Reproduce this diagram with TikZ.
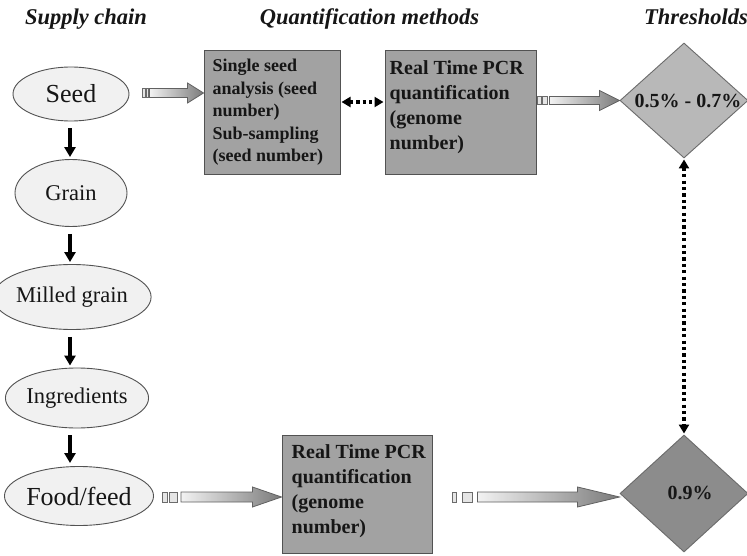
\documentclass[tikz,border=0pt]{standalone}
\usepackage{fontspec}
\setmainfont{Liberation Serif}
\usetikzlibrary{shapes.geometric,arrows.meta,calc}
\definecolor{inkc}{HTML}{161616}
\definecolor{ellfill}{HTML}{F1F1F1}
\definecolor{boxfill}{HTML}{A2A2A2}
\definecolor{thrA}{HTML}{B8B8B8}
\definecolor{thrB}{HTML}{8C8C8C}
\newcommand{\blkarrow}[9]{%
  \coordinate (ba-s) at (#1);
  \coordinate (ba-e) at (#2 |- ba-s);
  \draw[smallrect] ($(ba-s)+(#3,-#9)$) rectangle ($(ba-s)+(#3+#4,#9)$);
  \draw[smallrect] ($(ba-s)+(#5,-#9)$) rectangle ($(ba-s)+(#5+#6,#9)$);
  \path[shaftarrow] ($(ba-s)+(#7,-#9)$) -- ($(ba-e)+(-#8,-#9)$) -- ($(ba-e)+(-#8,-10)$)
     -- (ba-e) -- ($(ba-e)+(-#8,10)$) -- ($(ba-e)+(-#8,#9)$) -- ($(ba-s)+(#7,#9)$) -- cycle;
}
\begin{document}
\begin{tikzpicture}[x=1pt,y=-1pt,
  every node/.style={text=inkc},
  chain/.style={ellipse, draw=black!68, fill=ellfill, line width=0.9pt, inner sep=0pt},
  qbox/.style={rectangle, draw=black!68, fill=boxfill, line width=1pt, inner sep=0pt},
  thr/.style={diamond, draw=black!58, line width=0.9pt, inner sep=0pt},
  title/.style={font=\fontsize{22.5}{27}\selectfont\bfseries\itshape, anchor=base},
  bigtxt/.style={font=\fontsize{26}{30}\selectfont},
  midtxt/.style={font=\fontsize{22.5}{26}\selectfont},
  qtxtA/.style={font=\fontsize{18}{22.5}\selectfont\bfseries, align=left, anchor=north west, inner sep=0pt},
  qtxtB/.style={font=\fontsize{20}{25}\selectfont\bfseries, align=left, anchor=north west, inner sep=0pt},
  thrtxt/.style={font=\fontsize{20}{24}\selectfont\bfseries, inner sep=0pt},
  blk/.style={line width=3.3pt, draw=black, -{Triangle[length=10pt,width=11pt]}},
  dotarr/.style={line width=3.2pt, draw=black, dash pattern=on 3.2pt off 3.2pt,
     {Triangle[length=9pt,width=10pt]}-{Triangle[length=9pt,width=10pt]}},
  smallrect/.style={draw=black!58, fill=black!10, line width=0.7pt},
  shaftarrow/.style={draw=black!62, line width=0.8pt, left color=black!5, right color=black!52}
]
\useasboundingbox[fill=white] (0,0) rectangle (747,556);

% titles
\node[title] (t1) at (86,25) {Supply chain};
\node[title] (t2) at (369.5,25) {Quantification methods};
\node[title] (t3) at (696,25) {Thresholds};

% supply chain
\node[chain, bigtxt, minimum width=116pt, minimum height=54pt] (seed) at (71,94) {Seed};
\node[chain, midtxt, minimum width=112pt, minimum height=67pt] (grain) at (71,193) {Grain};
\node[chain, midtxt, minimum width=116pt, minimum height=65pt] (milled) at (72,297) {Milled grain};
\node[chain, midtxt, minimum width=110pt, minimum height=60pt] (ingr) at (77,398) {Ingredients};
\node[chain, bigtxt, minimum width=142pt, minimum height=59pt] (food) at (79,496) {Food/feed};

\coordinate (v1) at ($(seed.south)+(-1,7)$);
\coordinate (v2) at ($(grain.south)+(-1,7)$);
\coordinate (v3) at ($(milled.south)+(-2,7)$);
\coordinate (v4) at ($(ingr.south)+(-7,7)$);
\draw[blk] (v1) -- ($(v1 |- grain.north)+(0,-2)$);
\draw[blk] (v2) -- ($(v2 |- milled.north)+(0,-2)$);
\draw[blk] (v3) -- ($(v3 |- ingr.north)+(0,-2)$);
\draw[blk] (v4) -- ($(v4 |- food.north)+(0,-3)$);

% quantification boxes
\node[qbox, minimum width=136pt, minimum height=124pt] (b1) at (272,113) {};
\node[qtxtA] (b1t) at ($(b1.north west)+(9,8.5)$) {Single seed\\analysis (seed\\number)\\Sub-sampling\\(seed number)};
\node[qbox, minimum width=151pt, minimum height=124pt] (b2) at (460.5,113) {};
\node[qtxtB] (b2t) at ($(b2.north west)+(5,10)$) {Real Time PCR\\quantification\\(genome\\number)};
\node[qbox, minimum width=150pt, minimum height=118pt] (b3) at (357,494) {};
\node[qtxtB] (b3t) at ($(b3.north west)+(10,10)$) {Real Time PCR\\quantification\\(genome\\number)};

% thresholds
\node[thr, fill=thrA, minimum width=128pt, minimum height=115pt] (d1) at (684,100.5) {};
\node[thrtxt] (d1t) at (688,101) {0.5\% - 0.7\%};
\node[thr, fill=thrB, minimum width=128pt, minimum height=117pt] (d2) at (684,493.5) {};
\node[thrtxt] (d2t) at (690,493) {0.9\%};

% dotted connectors
\draw[dotarr] ($(b1.east)+(1,-11)$) -- ($(b2.west)+(-1,-11)$);
\draw[dotarr] ($(d1.south)+(0,1)$) -- ($(d2.north)+(0,-1)$);

% block arrows
\blkarrow{$(seed.east)+(0,-1)$}{b1.west}{13}{2.5}{16.5}{2.5}{20}{16}{4.5}
\blkarrow{b2.east |- d1.west}{d1.west}{1}{4}{6}{5}{13}{20}{4}
\blkarrow{$(food.east)+(0,1)$}{b3.west}{8}{5}{15}{8}{27}{29}{5}
\blkarrow{$(b3.east)+(0,3)$}{d2.west}{20}{4}{30}{10}{45}{42}{5}
\end{tikzpicture}
\end{document}
